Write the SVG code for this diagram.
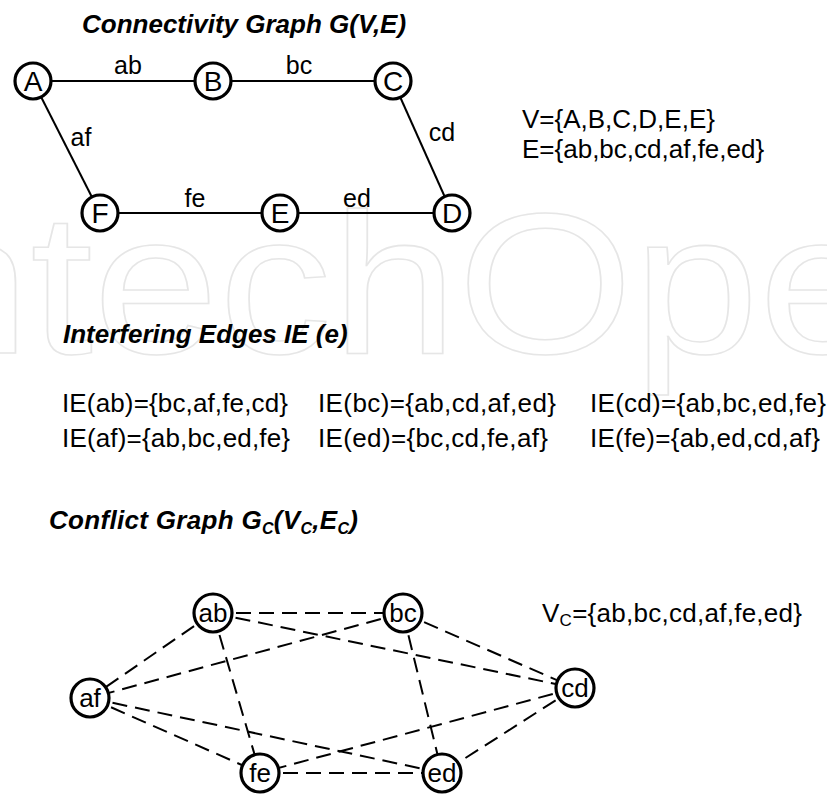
<svg xmlns="http://www.w3.org/2000/svg" width="827" height="794" viewBox="0 0 827 794">
  <style>
    .title { font-family: "Liberation Sans", Arial, sans-serif; font-size: 26px; font-weight: bold; font-style: italic; fill: #000; }
    .txt { font-family: "Liberation Sans", Arial, sans-serif; font-size: 26px; fill: #000; }
    .elabel { font-family: "Liberation Sans", Arial, sans-serif; font-size: 25px; fill: #000; text-anchor: middle; }
    .nlabel { font-family: "Liberation Sans", Arial, sans-serif; font-size: 28px; fill: #000; text-anchor: middle; }
    .clabel { font-family: "Liberation Sans", Arial, sans-serif; font-size: 26px; fill: #000; text-anchor: middle; }
    .node { fill: #fff; stroke: #000; stroke-width: 3.2; }
    .edge { stroke: #000; stroke-width: 2; fill: none; }
    .conflict { stroke: #000; stroke-width: 2; fill: none; stroke-dasharray: 15 8; }
    .mark { font-family: "Liberation Sans", Arial, sans-serif; font-size: 200px; fill: none; stroke: #e6e6e6; stroke-width: 1.5; }
  </style>

  <rect width="827" height="794" fill="#fff"/>

  <!-- faint background lettering -->
  <g id="watermark">
    <text class="mark" x="-140" y="353" transform="scale(1.13,1)">IntechOpen</text>
  </g>

  <!-- connectivity graph -->
  <text class="title" x="82" y="33">Connectivity Graph G(V,E)</text>

  <g id="connectors">
    <line class="edge" x1="33" y1="81" x2="213" y2="81"/>
    <line class="edge" x1="213" y1="81" x2="393" y2="81"/>
    <line class="edge" x1="393" y1="81" x2="452" y2="213"/>
    <line class="edge" x1="33" y1="81" x2="100" y2="213"/>
    <line class="edge" x1="100" y1="213" x2="280" y2="213"/>
    <line class="edge" x1="280" y1="213" x2="452" y2="213"/>
    <text class="elabel" x="128" y="74">ab</text>
    <text class="elabel" x="299" y="74">bc</text>
    <text class="elabel" x="442" y="141">cd</text>
    <text class="elabel" x="81" y="146">af</text>
    <text class="elabel" x="195" y="207">fe</text>
    <text class="elabel" x="357" y="207">ed</text>
  </g>

  <g id="node-A"><circle class="node" cx="33" cy="81" r="18"/><text class="nlabel" x="33" y="91">A</text></g>
  <g id="node-B"><circle class="node" cx="213" cy="81" r="18"/><text class="nlabel" x="213" y="91">B</text></g>
  <g id="node-C"><circle class="node" cx="393" cy="81" r="18"/><text class="nlabel" x="393" y="91">C</text></g>
  <g id="node-D"><circle class="node" cx="452" cy="213" r="18"/><text class="nlabel" x="452" y="223">D</text></g>
  <g id="node-E"><circle class="node" cx="280" cy="213" r="18"/><text class="nlabel" x="280" y="223">E</text></g>
  <g id="node-F"><circle class="node" cx="100" cy="213" r="18"/><text class="nlabel" x="100" y="223">F</text></g>

  <text class="txt" x="522" y="128">V={A,B,C,D,E,E}</text>
  <text class="txt" x="522" y="158">E={ab,bc,cd,af,fe,ed}</text>

  <!-- interfering edge sets -->
  <text class="title" x="63" y="343">Interfering Edges IE (e)</text>
  <g class="txt">
    <text x="62" y="412" textLength="226">IE(ab)={bc,af,fe,cd}</text>
    <text x="318" y="412" textLength="238">IE(bc)={ab,cd,af,ed}</text>
    <text x="590" y="412" textLength="236">IE(cd)={ab,bc,ed,fe}</text>
    <text x="62" y="447" textLength="228">IE(af)={ab,bc,ed,fe}</text>
    <text x="318" y="447" textLength="230">IE(ed)={bc,cd,fe,af}</text>
    <text x="590" y="447" textLength="230">IE(fe)={ab,ed,cd,af}</text>
  </g>

  <!-- conflict graph -->
  <text class="title" x="49" y="529" textLength="309">Conflict Graph G<tspan font-size="16" dy="5">C</tspan><tspan dy="-5">(V</tspan><tspan font-size="16" dy="5">C</tspan><tspan dy="-5">,E</tspan><tspan font-size="16" dy="5">C</tspan><tspan dy="-5">)</tspan></text>

  <g id="conflict-connectors">
    <line class="conflict" x1="213" y1="613" x2="403" y2="613"/>
    <line class="conflict" x1="213" y1="613" x2="90" y2="698"/>
    <line class="conflict" x1="213" y1="613" x2="260" y2="773"/>
    <line class="conflict" x1="213" y1="613" x2="575" y2="688"/>
    <line class="conflict" x1="403" y1="613" x2="575" y2="688"/>
    <line class="conflict" x1="403" y1="613" x2="90" y2="698"/>
    <line class="conflict" x1="403" y1="613" x2="442" y2="773"/>
    <line class="conflict" x1="575" y1="688" x2="442" y2="773"/>
    <line class="conflict" x1="575" y1="688" x2="260" y2="773"/>
    <line class="conflict" x1="90" y1="698" x2="442" y2="773"/>
    <line class="conflict" x1="90" y1="698" x2="260" y2="773"/>
    <line class="conflict" x1="260" y1="773" x2="442" y2="773"/>
  </g>

  <g id="node-ab"><circle class="node" cx="213" cy="613" r="19"/><text class="clabel" x="213" y="622">ab</text></g>
  <g id="node-bc"><circle class="node" cx="403" cy="613" r="19"/><text class="clabel" x="403" y="622">bc</text></g>
  <g id="node-cd"><circle class="node" cx="575" cy="688" r="19"/><text class="clabel" x="575" y="697">cd</text></g>
  <g id="node-af"><circle class="node" cx="90" cy="698" r="19"/><text class="clabel" x="90" y="707">af</text></g>
  <g id="node-fe"><circle class="node" cx="260" cy="773" r="19"/><text class="clabel" x="260" y="782">fe</text></g>
  <g id="node-ed"><circle class="node" cx="442" cy="773" r="19"/><text class="clabel" x="442" y="782">ed</text></g>

  <text class="txt" x="542" y="622" textLength="260">V<tspan font-size="17" dy="4">C</tspan><tspan dy="-4">={ab,bc,cd,af,fe,ed}</tspan></text>
</svg>
